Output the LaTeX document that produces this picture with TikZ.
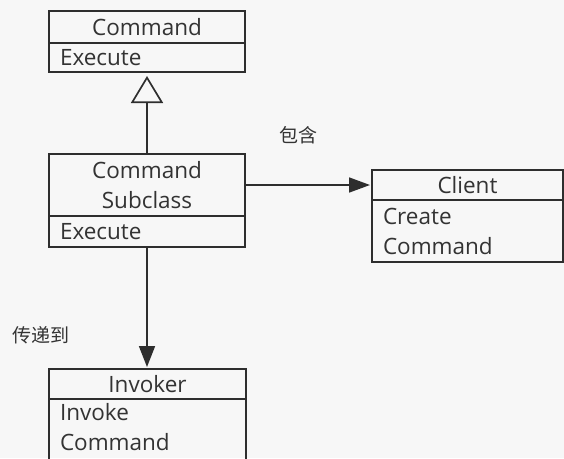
\documentclass[tikz,border=0pt]{standalone}
\usepackage{fontspec}
\setmainfont{Open Sans}
\newfontfamily\cjk{Noto Sans CJK SC}
\usetikzlibrary{arrows.meta}
\definecolor{ink}{HTML}{2E2E2E}
\definecolor{txt}{HTML}{333333}
\definecolor{bg}{HTML}{F7F7F7}
\begin{document}
\begin{tikzpicture}[x=1pt,y=-1pt,
  box/.style={draw=ink,line width=1.7pt,inner sep=0pt,outer sep=0pt,text=txt,font=\fontsize{22.5}{30}\selectfont},
  titlebox/.style={box,align=center},
  attrbox/.style={box,align=left,inner xsep=11pt,inner ysep=0pt},
  conn/.style={draw=ink,line width=1.7pt},
  lbl/.style={text=txt,font=\cjk\fontsize{19}{22}\selectfont,inner sep=0pt}]
\fill[bg] (0,0) rectangle (564,458);
\useasboundingbox (0,0) rectangle (564,458);
% Command
\node[titlebox,minimum width=196pt,minimum height=32pt] (cmdT) at (147,27) {Command};
\node[attrbox,text width=174pt,minimum height=29pt,anchor=north] (cmdA) at (cmdT.south) {Execute};
% Command Subclass
\node[titlebox,minimum width=196pt,minimum height=62pt] (subT) at (147,185) {Command\\Subclass};
\node[attrbox,text width=174pt,minimum height=31pt,anchor=north] (subA) at (subT.south) {Execute};
% Client
\node[titlebox,minimum width=191pt,minimum height=30pt] (cliT) at (467.5,185) {Client};
\node[attrbox,text width=169pt,minimum height=62pt,anchor=north] (cliA) at (cliT.south) {Create\\Command};
% Invoker (box runs past the bottom edge)
\node[titlebox,minimum width=197pt,minimum height=30pt] (invT) at (147.5,384) {Invoker};
\node[attrbox,draw=none,text width=175pt,minimum height=57pt,anchor=north] (invA) at (invT.south) {Invoke\\Command};
\draw[conn] (invA.north west) -- ++(0,70);
\draw[conn] (invA.north east) -- ++(0,70);
% connectors
\draw[conn,-{Triangle[open,length=27pt,width=32pt,line width=1.7pt]},shorten >=4pt] (subT.north) -- (cmdA.south);
\draw[conn,-{Triangle[length=21pt,width=15pt]},shorten >=2pt] (subT.east) -- (cliT.west);
\draw[conn,-{Triangle[length=21pt,width=16pt]},shorten >=2pt] (subA.south) -- (subA.south |- invT.north);
% labels
\node[lbl] (lblA) at (298,135) {包含};
\node[lbl] (lblB) at (41,335) {传递到};
\end{tikzpicture}
\end{document}
